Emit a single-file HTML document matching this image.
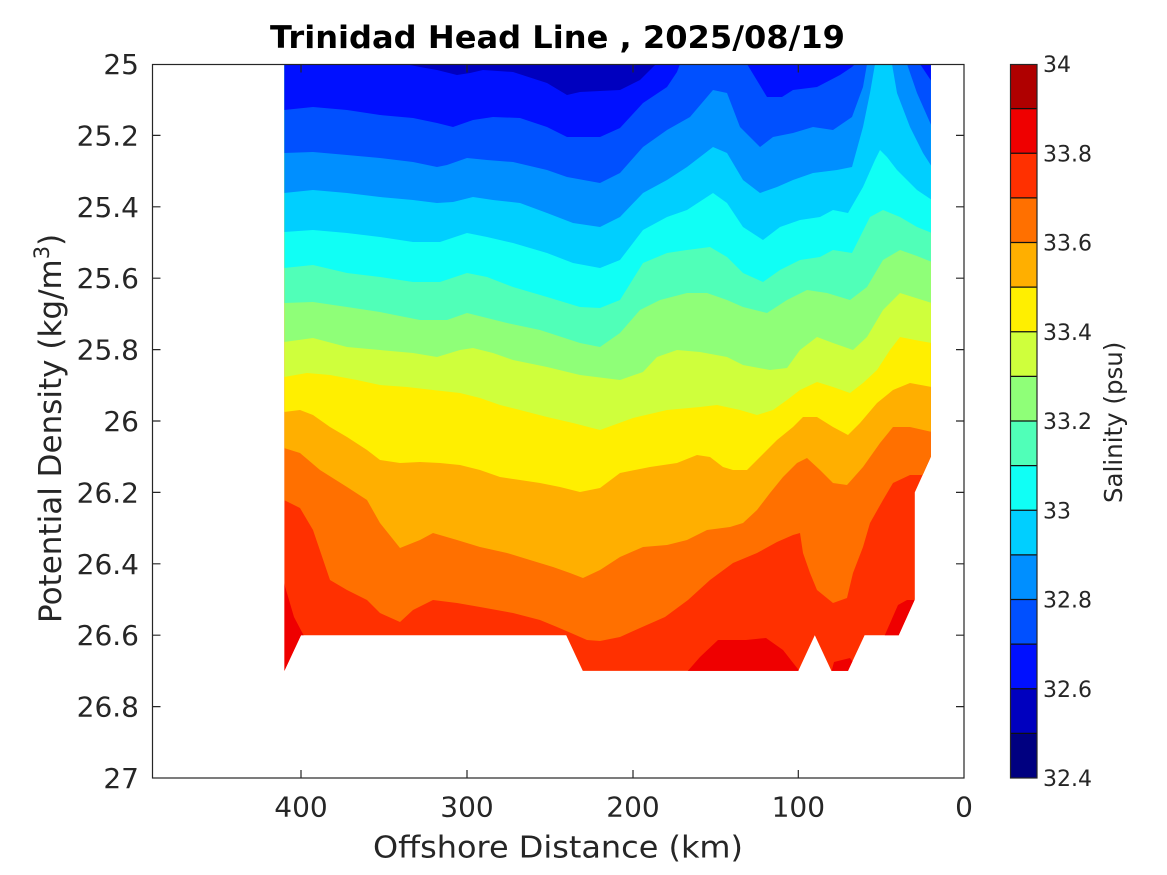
<!DOCTYPE html>
<html><head><meta charset="utf-8"><style>
html,body{margin:0;padding:0;background:#fff;}
svg{display:block;}
text{font-family:"DejaVu Sans","Liberation Sans",sans-serif;fill:#262626;}
</style></head><body>
<svg width="1167" height="875" viewBox="0 0 1167 875" xmlns="http://www.w3.org/2000/svg">
<rect x="0" y="0" width="1167" height="875" fill="#fff"/>
<defs>
<clipPath id="dc"><polygon points="284.4,64 930.9,64 930.9,456.7 914.8,492.4 914.8,599.5 898.7,635.2 864.6,635.2 848,670.9 831.4,670.9 814.8,635.2 798.3,670.9 582.8,670.9 566.2,635.2 301,635.2 284.4,670.9"/></clipPath>
</defs>
<g clip-path="url(#dc)">
<rect x="280" y="60" width="660" height="620" fill="#ff3000"/>
<!-- c14 patches -->
<polygon fill="#ef0000" points="284,583 294,617 304,636 284,672"/>
<polygon fill="#ef0000" points="686,673 700,657 718,640 746,640 766,638 783,650 801,673"/>
<polygon fill="#ef0000" points="831,673 834,662 850,658 855,665 852,673"/>
<polygon fill="#ef0000" points="884,637 898,605 907,600 917,600 917,637"/>
<!-- L12 -->
<polygon fill="#ff7000" points="284,60 284,500 300,508 313,530 330,580 347,590 367,600 380,613 400,622 413,610 433,600 457,603 480,607 513,613 540,620 557,627 571,633 587,640 600,641 620,637 640,628 665,617 688,600 710,580 733,563 757,553 777,542 793,535 800,533 803,553 810,573 817,590 833,603 847,598 853,573 863,547 870,523 883,500 893,483 910,475 932,475 932,60"/>
<!-- L11 -->
<polygon fill="#ffaf00" points="284,60 284,448 300,453 320,470 347,487 367,500 380,523 400,548 420,540 433,533 457,540 480,547 507,553 530,560 553,567 570,573 583,578 600,570 620,557 643,547 667,545 687,540 707,530 730,527 743,523 757,510 770,493 783,477 797,463 807,458 820,470 833,483 847,485 863,467 880,443 893,427 910,427 932,432 932,60"/>
<!-- L10 -->
<polygon fill="#ffef00" points="284,60 284,412 300,410 313,415 330,427 347,437 367,450 380,460 400,463 420,462 440,463 460,465 480,470 500,477 520,480 540,483 560,487 580,492 600,488 620,473 650,467 677,463 697,455 710,457 723,467 733,470 747,470 760,457 777,440 793,427 803,417 817,417 833,427 848,435 860,423 877,403 893,390 910,383 932,387 932,60"/>
<!-- L9 -->
<polygon fill="#cfff3c" points="284,60 284,377 307,373 330,375 357,380 380,385 407,387 433,390 460,393 480,398 500,405 520,410 547,417 573,423 600,430 633,418 667,410 700,407 717,405 740,410 757,415 773,410 787,400 800,390 817,382 833,387 850,393 863,383 877,370 890,350 900,337 915,340 932,343 932,60"/>
<!-- L8 -->
<polygon fill="#8fff78" points="284,60 284,342 313,338 347,347 380,350 413,353 437,357 460,350 473,348 493,353 513,360 547,367 580,375 620,380 643,372 657,357 677,350 700,352 727,357 743,365 770,370 787,368 800,350 817,337 833,343 853,350 867,337 883,310 900,293 932,303 932,60"/>
<!-- L7 -->
<polygon fill="#50ffb8" points="284,60 284,303 313,302 347,307 380,312 420,320 447,320 467,313 487,318 507,323 540,330 580,343 600,347 620,333 640,310 660,300 687,293 707,293 727,300 743,307 767,313 787,300 807,290 827,293 850,300 867,287 883,260 900,250 917,256 932,262 932,60"/>
<!-- L6 -->
<polygon fill="#10fff5" points="284,60 284,268 313,265 347,273 380,277 413,282 440,282 467,273 487,277 513,287 547,297 580,307 600,308 620,300 643,263 667,253 687,250 710,247 727,257 743,273 763,282 780,270 800,260 820,257 833,250 852,253 870,217 883,210 900,217 917,227 932,233 932,60"/>
<!-- L5 -->
<polygon fill="#00cfff" points="284,60 284,232 313,230 347,233 380,237 413,242 440,242 467,233 487,237 513,243 547,253 573,263 600,268 620,260 643,230 667,217 687,210 713,193 727,203 743,227 763,240 780,227 800,220 820,217 833,210 848,213 863,187 875,160 880,150 887,157 897,170 917,190 932,200 932,60"/>
<!-- L4 -->
<polygon fill="#008fff" points="284,60 284,193 313,190 347,193 380,197 413,200 437,203 453,202 473,197 493,200 520,203 547,213 573,223 600,227 620,217 643,193 667,180 687,167 713,147 727,153 743,180 760,193 777,187 793,180 813,173 837,170 852,167 863,127 870,93 875,64 875,60 892,60 892,64 897,93 910,127 923,153 932,167 932,60"/>
<!-- L3 -->
<polygon fill="#0050ff" points="284,60 284,153 313,152 347,155 380,158 413,162 437,167 447,165 467,158 487,160 513,162 547,170 567,177 600,183 620,173 643,147 667,130 690,117 713,90 727,93 740,127 760,147 773,137 793,133 813,127 833,130 852,117 863,87 867,64 867,60 907,60 907,64 917,93 932,127 932,60"/>
<!-- L2 -->
<polygon fill="#0010ff" points="284,60 284,110 313,107 347,110 380,115 413,118 437,123 453,127 473,120 493,117 520,118 547,127 567,137 600,137 620,128 643,103 667,87 677,72 680,64 680,60 747,60 747,64 767,97 782,97 793,90 817,87 840,75 852,67 855,64 855,60 920,60 920,64 932,82 932,60"/>
<!-- L1 patch -->
<polygon fill="#0000bf" points="405,60 405,64 420,67 437,70 457,75 470,73 483,70 513,72 547,83 567,95 580,92 600,91 620,90 640,80 653,67 656,64 656,60"/>
</g>

<!-- axes box and ticks -->
<g stroke="#262626" stroke-width="1.2" fill="none">
<rect x="152.5" y="64.5" width="811.5" height="713.5"/>
<path d="M152.5 135.4h8M152.5 206.8h8M152.5 278.2h8M152.5 349.6h8M152.5 421h8M152.5 492.4h8M152.5 563.8h8M152.5 635.2h8M152.5 706.6h8
M964 135.4h-8M964 206.8h-8M964 278.2h-8M964 349.6h-8M964 421h-8M964 492.4h-8M964 563.8h-8M964 635.2h-8M964 706.6h-8
M301 778v-8M467 778v-8M633 778v-8M798.3 778v-8
M301 64.5v8M467 64.5v8M633 64.5v8M798.3 64.5v8"/>
</g>

<!-- y tick labels -->
<g font-size="28" text-anchor="end">
<text x="139" y="74">25</text>
<text x="139" y="145.4">25.2</text>
<text x="139" y="216.8">25.4</text>
<text x="139" y="288.2">25.6</text>
<text x="139" y="359.6">25.8</text>
<text x="139" y="431">26</text>
<text x="139" y="502.4">26.2</text>
<text x="139" y="573.8">26.4</text>
<text x="139" y="645.2">26.6</text>
<text x="139" y="716.6">26.8</text>
<text x="139" y="788">27</text>
</g>
<!-- x tick labels -->
<g font-size="28" text-anchor="middle">
<text x="301" y="816.5">400</text>
<text x="467" y="816.5">300</text>
<text x="633" y="816.5">200</text>
<text x="798.3" y="816.5">100</text>
<text x="964" y="816.5">0</text>
</g>

<!-- title and labels -->
<text x="557.5" y="48" text-anchor="middle" font-weight="bold" font-size="31" textLength="575" lengthAdjust="spacingAndGlyphs" style="fill:#000">Trinidad Head Line , 2025/08/19</text>
<text x="558" y="857.5" text-anchor="middle" font-size="30.5" textLength="370" lengthAdjust="spacingAndGlyphs">Offshore Distance (km)</text>
<text transform="translate(61,623) rotate(-90)" x="0" y="0" font-size="31">Potential Density (kg/m<tspan font-size="21" dy="-12">3</tspan><tspan dy="12">)</tspan></text>

<!-- colorbar -->
<g>
<rect x="1010" y="64" width="27" height="44.625" fill="#af0000"/>
<rect x="1010" y="108.625" width="27" height="44.625" fill="#ef0000"/>
<rect x="1010" y="153.25" width="27" height="44.625" fill="#ff3000"/>
<rect x="1010" y="197.875" width="27" height="44.625" fill="#ff7000"/>
<rect x="1010" y="242.5" width="27" height="44.625" fill="#ffaf00"/>
<rect x="1010" y="287.125" width="27" height="44.625" fill="#ffef00"/>
<rect x="1010" y="331.75" width="27" height="44.625" fill="#cfff3c"/>
<rect x="1010" y="376.375" width="27" height="44.625" fill="#8fff78"/>
<rect x="1010" y="421" width="27" height="44.625" fill="#50ffb8"/>
<rect x="1010" y="465.625" width="27" height="44.625" fill="#10fff5"/>
<rect x="1010" y="510.25" width="27" height="44.625" fill="#00cfff"/>
<rect x="1010" y="554.875" width="27" height="44.625" fill="#008fff"/>
<rect x="1010" y="599.5" width="27" height="44.625" fill="#0050ff"/>
<rect x="1010" y="644.125" width="27" height="44.625" fill="#0010ff"/>
<rect x="1010" y="688.75" width="27" height="44.625" fill="#0000bf"/>
<rect x="1010" y="733.375" width="27" height="44.625" fill="#000080"/>
</g>
<g stroke="#111" stroke-width="1.2" fill="none">
<path d="M1010 108.6h27M1010 153.25h27M1010 197.9h27M1010 242.5h27M1010 287.1h27M1010 331.75h27M1010 376.4h27M1010 421h27M1010 465.6h27M1010 510.25h27M1010 554.9h27M1010 599.5h27M1010 644.1h27M1010 688.75h27M1010 733.4h27"/>
<rect x="1010.5" y="64.5" width="26.5" height="713.5" stroke="#262626"/>
</g>
<g font-size="22">
<text x="1043" y="72">34</text>
<text x="1043" y="161.25">33.8</text>
<text x="1043" y="250.5">33.6</text>
<text x="1043" y="339.75">33.4</text>
<text x="1043" y="429">33.2</text>
<text x="1043" y="518.25">33</text>
<text x="1043" y="607.5">32.8</text>
<text x="1043" y="696.75">32.6</text>
<text x="1043" y="786">32.4</text>
</g>
<text transform="translate(1122,503) rotate(-90)" x="0" y="0" font-size="24.5">Salinity (psu)</text>
</svg>
</body></html>
